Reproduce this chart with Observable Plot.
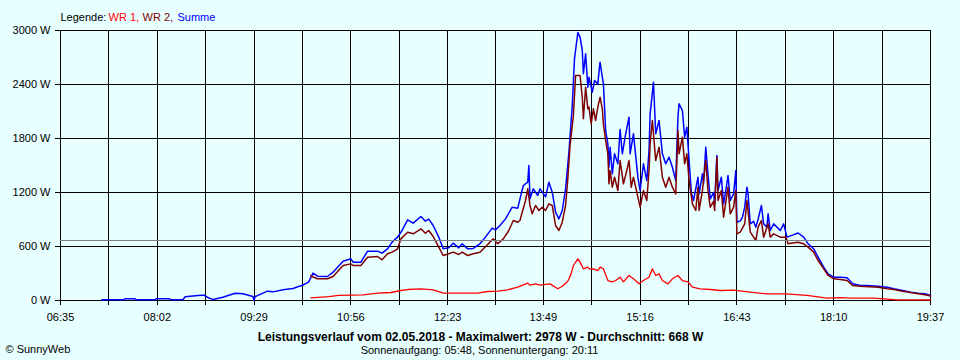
<!DOCTYPE html>
<html>
<head>
<meta charset="utf-8">
<script src="https://cdn.jsdelivr.net/npm/d3@7"></script>
<script src="https://cdn.jsdelivr.net/npm/@observablehq/plot@0.6"></script>
<style>
  html, body { margin: 0; padding: 0; background: #e8ffff; }
  #chart svg { display: block; }
</style>
</head>
<body>
<div id="chart"></div>
<script>
// ---- data (time = minutes after midnight, value = W) ----
const xTickLabels = ["06:35","08:02","09:29","10:56","12:23","13:49","15:16","16:43","18:10","19:37"];
const yTicks = [0, 600, 1200, 1800, 2400, 3000];
const average = 668;

const summe = [
  [432,8],[452,8],[453,19],[462,19],[463,8],[480,8],[481,19],[493,19],[494,8],[505,8],
  [507,41],[521,59],[524,59],[527,36],[532,10],[541,36],[545,52],[552,81],[559,74],[568,44],
  [569,2],[570,46],[571,48],[581,104],[586,96],[595,119],[604,133],[609,156],[612,167],[618,204],
  [622,304],[626,270],[635,267],[640,315],[649,437],[656,463],[658,426],[665,426],[671,548],[680,548],
  [684,526],[689,574],[693,648],[698,704],[702,778],[707,896],[712,859],[719,933],[723,881],[726,905],
  [730,833],[735,704],[739,574],[744,585],[748,637],[753,585],[756,630],[761,574],[766,578],[772,630],
  [777,704],[783,804],[786,785],[790,833],[795,907],[801,1037],[806,1026],[808,1130],[811,1278],[815,1315],
  [816,1500],[817,1130],[820,1241],[824,1167],[826,1241],[831,1152],[834,1315],[837,1204],[840,981],[843,907],
  [846,1000],[849,1241],[852,1648],[855,2167],[857,2685],[860,2978],[862,2926],[864,2778],[865,2519],[867,2741],
  [869,2370],[870,2481],[873,2315],[875,2444],[878,2407],[879,2537],[880,2648],[882,2481],[883,2407],[885,1889],
  [887,1741],[888,1481],[889,1704],[891,1407],[893,1630],[896,1519],[898,1900],[900,1630],[903,1852],[906,2037],
  [907,1630],[910,1852],[914,1370],[916,1222],[919,1519],[922,1333],[924,1667],[925,2074],[928,2426],[930,1852],
  [933,2000],[936,1630],[939,1519],[942,1593],[945,1481],[948,1333],[950,2037],[951,2185],[954,2111],[956,1815],
  [958,1926],[960,1556],[962,1204],[964,1111],[968,1370],[969,1185],[972,1407],[973,1300],[975,1704],[977,1400],
  [979,1130],[982,1200],[983,1074],[985,1611],[986,1222],[989,1370],[991,1074],[994,1300],[995,1389],[997,1111],
  [1000,1185],[1002,1444],[1003,870],[1006,885],[1008,926],[1010,1037],[1012,1259],[1013,1185],[1015,852],[1018,880],
  [1020,815],[1022,900],[1025,1056],[1027,852],[1030,815],[1031,963],[1033,778],[1036,852],[1039,815],[1042,778],
  [1045,852],[1048,704],[1053,726],[1058,750],[1063,704],[1067,630],[1072,574],[1076,481],[1081,370],[1085,296],
  [1090,259],[1096,259],[1102,252],[1107,185],[1114,167],[1120,167],[1130,159],[1138,148],[1144,130],[1152,111],
  [1159,93],[1166,81],[1172,74],[1177,56]
];

const wr2 = [
  [620,278],[621,267],[626,241],[635,241],[640,267],[649,389],[656,407],[658,389],[665,389],[671,481],
  [680,489],[684,452],[689,519],[693,537],[698,574],[701,685],[707,759],[712,741],[719,796],[723,748],
  [726,778],[730,711],[735,593],[739,500],[744,519],[748,537],[753,511],[756,537],[761,500],[766,519],
  [772,537],[779,622],[781,650],[784,685],[788,630],[793,685],[798,778],[802,889],[806,870],[808,889],
  [810,981],[813,1111],[815,1241],[817,1056],[819,963],[822,1056],[825,1000],[828,1037],[831,1000],[834,1074],
  [837,1056],[840,833],[843,778],[846,870],[849,1056],[851,1352],[853,1722],[856,2056],[858,2500],[862,2500],
  [864,2259],[865,2019],[867,2370],[869,2130],[870,2150],[872,1963],[874,2130],[876,2000],[878,2150],[880,2259],
  [882,2130],[883,1963],[885,1778],[887,1630],[888,1296],[889,1444],[891,1259],[893,1370],[896,1222],[898,1556],
  [901,1296],[904,1444],[906,1556],[908,1259],[910,1370],[914,1148],[916,1037],[919,1222],[922,1111],[924,1444],
  [925,1741],[927,2000],[930,1556],[933,1704],[936,1370],[939,1259],[942,1370],[945,1259],[948,1185],[950,1889],
  [951,1630],[954,1815],[956,1519],[958,1630],[960,1333],[963,1074],[966,1000],[968,1259],[969,1000],[972,1222],
  [975,1556],[977,1222],[979,1037],[982,1100],[983,1000],[985,1593],[986,1111],[989,1222],[991,926],[995,1259],
  [997,963],[1000,1037],[1002,1222],[1003,741],[1006,759],[1010,852],[1012,1111],[1015,759],[1018,704],[1020,667],
  [1022,815],[1025,889],[1027,704],[1031,852],[1033,704],[1036,741],[1042,704],[1047,704],[1049,630],[1053,640],
  [1058,648],[1063,630],[1067,593],[1072,537],[1076,444],[1081,352],[1085,278],[1090,241],[1096,233],[1102,222],
  [1107,167],[1114,159],[1130,148],[1138,130],[1144,122],[1152,104],[1159,88],[1166,76],[1172,65],[1177,50]
];

const wr1 = [
  [620,30],[636,44],[645,56],[656,59],[667,63],[680,81],[692,89],[701,111],[707,122],[719,130],
  [730,118],[739,81],[755,81],[770,81],[779,100],[788,104],[797,119],[806,148],[815,193],[817,170],
  [822,185],[826,170],[831,178],[835,185],[842,130],[846,159],[851,215],[854,296],[856,389],[860,463],
  [862,426],[865,352],[869,370],[871,348],[874,352],[878,333],[880,370],[883,352],[887,222],[891,207],
  [894,222],[898,259],[901,207],[906,278],[910,241],[915,185],[919,222],[924,259],[927,352],[930,278],
  [933,296],[936,222],[941,185],[945,241],[950,278],[954,222],[959,207],[963,148],[970,130],[979,122],
  [988,111],[1000,115],[1015,93],[1030,74],[1047,74],[1066,56],[1084,26],[1096,33],[1105,26],[1126,26],
  [1147,7],[1177,7]
];

// ---- helpers ----
const BG = "#e8ffff";
const toMin = s => { const [h, m] = s.split(":").map(Number); return h * 60 + m; };
const xMajor = xTickLabels.map(toMin);
const xMinor = xMajor.slice(1).map((v, i) => (v + xMajor[i]) / 2);
const labelOf = new Map(xMajor.map((m, i) => [m, xTickLabels[i]]));

const chart = Plot.plot({
  width: 960,
  height: 360,
  marginLeft: 60,
  marginRight: 30,
  marginTop: 30,
  marginBottom: 60,
  style: {
    background: BG,
    fontFamily: "'Liberation Sans', Arial, sans-serif",
    fontSize: "11px",
    color: "black",
    overflow: "visible"
  },
  x: {
    domain: [xMajor[0], xMajor[xMajor.length - 1]],
    ticks: xMajor,
    tickFormat: m => labelOf.get(m) ?? "",
    tickSize: 0,
    tickPadding: 13,
    label: null
  },
  y: {
    domain: [0, 3000],
    ticks: yTicks,
    tickFormat: d => d + " W",
    tickSize: 0,
    tickPadding: 10,
    label: null
  },
  marks: [
    // grid (extends 5px outside the frame like tick marks)
    Plot.ruleX([...xMajor, ...xMinor], {stroke: "black", strokeWidth: 1, insetBottom: -5, shapeRendering: "crispEdges"}),
    Plot.ruleY(yTicks, {stroke: "black", strokeWidth: 1, insetLeft: -5, shapeRendering: "crispEdges"}),
    // data
    Plot.line(summe, {x: d => d[0], y: d => d[1], stroke: "#0000ff", strokeWidth: 1.5}),
    Plot.line(wr2, {x: d => d[0], y: d => d[1], stroke: "#800000", strokeWidth: 1.5}),
    Plot.line(wr1, {x: d => d[0], y: d => d[1], stroke: "#ff0000", strokeWidth: 1.3}),
    // average
    Plot.ruleY([average], {stroke: "#808080", strokeWidth: 1, shapeRendering: "crispEdges"}),
    // legend
    Plot.text(["Legende:"], {frameAnchor: "top-left", dy: -10, lineAnchor: "bottom", textAnchor: "start", fill: "black"}),
    Plot.text(["WR 1,"], {frameAnchor: "top-left", dx: 48, dy: -10, lineAnchor: "bottom", textAnchor: "start", fill: "#ff0000"}),
    Plot.text(["WR 2,"], {frameAnchor: "top-left", dx: 82, dy: -10, lineAnchor: "bottom", textAnchor: "start", fill: "#800000"}),
    Plot.text(["Summe"], {frameAnchor: "top-left", dx: 117, dy: -10, lineAnchor: "bottom", textAnchor: "start", fill: "#0000ff"}),
    // footer
    Plot.text(["Leistungsverlauf vom 02.05.2018 - Maximalwert: 2978 W - Durchschnitt: 668 W"],
      {frameAnchor: "bottom", dx: -15, dy: 40, lineAnchor: "bottom", textAnchor: "middle", fontWeight: "bold", fontSize: 12, fill: "black"}),
    Plot.text(["Sonnenaufgang: 05:48, Sonnenuntergang: 20:11"],
      {frameAnchor: "bottom", dx: -16, dy: 53, lineAnchor: "bottom", textAnchor: "middle", fill: "black"}),
    Plot.text(["© SunnyWeb"],
      {frameAnchor: "bottom-left", dx: -55, dy: 52, lineAnchor: "bottom", textAnchor: "start", fill: "black"})
  ]
});

document.getElementById("chart").appendChild(chart);
</script>
</body>
</html>
